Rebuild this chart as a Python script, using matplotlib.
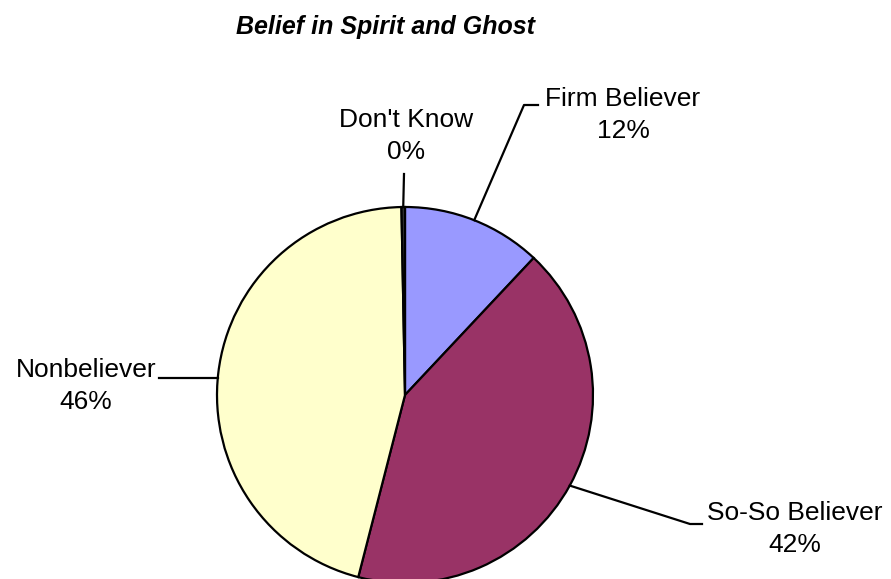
import numpy as np
import matplotlib.pyplot as plt

labels = ["Firm Believer", "So-So Believer", "Nonbeliever", "Don't Know"]
values = [12.0, 42.0, 45.7, 0.3]
colors = ["#9999FF", "#993366", "#FFFFCC", "#333333"]

# label text anchor (pixel coords, y from top) and elbow of leader line
text_pos = [(623, 115), (795, 529), (86, 386), (406, 136)]
elbow = [(524, 105), (690, 524), (159, 378), (404, 174)]
elbow_end = [(538, 105), (702, 524), (159, 378), (404, 174)]

W, H = 891, 579
cx, cy, r = 405, 395, 188

plt.rcParams['font.family'] = ['Liberation Sans', 'DejaVu Sans']
fig = plt.figure(figsize=(W / 100, H / 100), dpi=100)
ax = fig.add_axes([0, 0, 1, 1])
ax.set_xlim(0, W)
ax.set_ylim(0, H)
ax.set_aspect('equal')
ax.axis('off')

wedges, _ = ax.pie(values, colors=colors, startangle=90, counterclock=False,
                   center=(cx, H - cy), radius=r,
                   wedgeprops=dict(edgecolor='black', linewidth=1.6))
ax.set_xlim(0, W)
ax.set_ylim(0, H)

total = sum(values)
for w, lab, v, tp, el, ee in zip(wedges, labels, values, text_pos, elbow, elbow_end):
    ang = np.deg2rad((w.theta1 + w.theta2) / 2)
    x0 = cx + r * np.cos(ang)
    y0 = (H - cy) + r * np.sin(ang)
    if lab == "Nonbeliever":
        # horizontal leader: hit the circle at the elbow height
        dy = (H - el[1]) - (H - cy)
        x0 = cx - np.sqrt(r ** 2 - dy ** 2)
        y0 = H - el[1]
    ax.plot([x0, el[0], ee[0]], [y0, H - el[1], H - ee[1]], color='black', lw=1.6)
    ax.text(tp[0], H - tp[1], f"{lab}\n{round(v / total * 100):.0f}%",
            ha='center', va='center', fontsize=19, linespacing=1.4)

ax.text(385, H - 27, "Belief in Spirit and Ghost", ha='center', va='center',
        fontsize=18, fontweight='bold', fontstyle='italic')

fig.savefig('out.png', dpi=100)
